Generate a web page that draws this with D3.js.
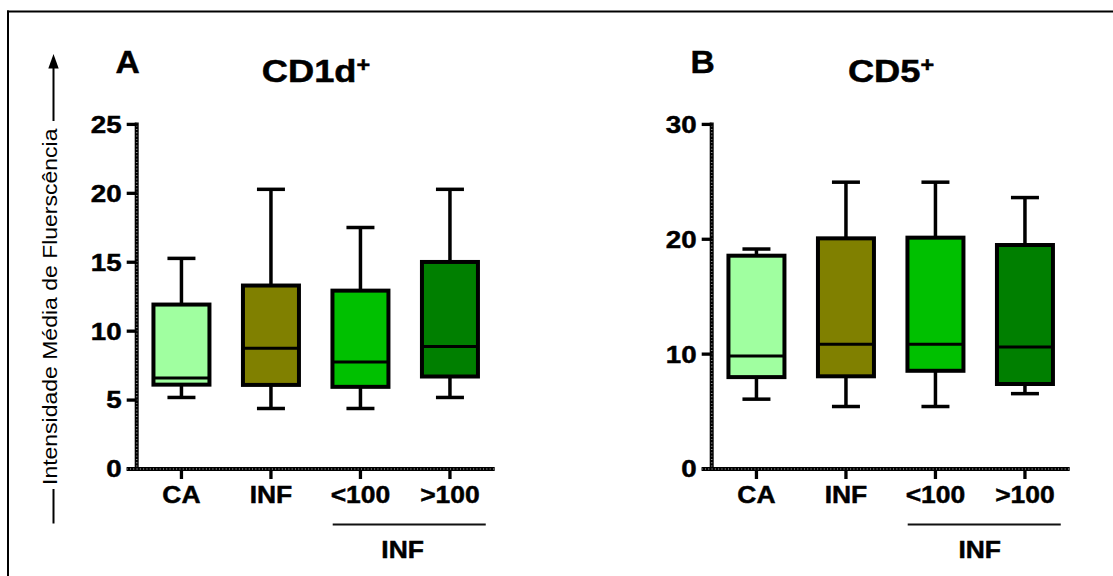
<!DOCTYPE html>
<html>
<head>
<meta charset="utf-8">
<script src="https://cdn.jsdelivr.net/npm/d3@7"></script>
<style>
  html, body { margin: 0; padding: 0; background: #fff; }
  svg { display: block; }
  text { font-family: "Liberation Sans", Arial, Helvetica, sans-serif; fill: #000; }
</style>
</head>
<body>
<svg id="chart" width="1113" height="576"></svg>
<script>
// ---- data ----
const categories = ["CA", "INF", "<100", ">100"];
const groupColors = ["#a0ffa0", "#808000", "#00c000", "#007f00"];

// Panel A: CD1d+
const cd1dMin    = [5.19, 4.39, 4.39, 5.19];
const cd1dQ1     = [6.12, 6.10, 5.96, 6.71];
const cd1dMedian = [6.60, 8.76, 7.77, 8.89];
const cd1dQ3     = [11.93, 13.31, 12.94, 15.02];
const cd1dMax    = [15.28, 20.29, 17.52, 20.29];
const cd1dTicks  = [0, 5, 10, 15, 20, 25];

// Panel B: CD5+
const cd5Min    = [6.08, 5.44, 5.44, 6.56];
const cd5Q1     = [8.00, 8.07, 8.55, 7.40];
const cd5Median = [9.83, 10.85, 10.85, 10.63];
const cd5Q3     = [18.57, 20.08, 20.14, 19.50];
const cd5Max    = [19.15, 24.97, 24.97, 23.63];
const cd5Ticks  = [0, 10, 20, 30];

const yLabel = "Intensidade Média de Fluerscência";
const groupLabel = "INF";
const groupedCats = ["<100", ">100"];

// ---- drawing ----
const svg = d3.select("#chart");
svg.append("rect").attr("width", 1113).attr("height", 576).attr("fill", "#fff");

// frame (top and left)
svg.append("line").attr("x1", 7).attr("x2", 1113).attr("y1", 11.5).attr("y2", 11.5)
  .attr("stroke", "#000").attr("stroke-width", 2);
svg.append("line").attr("x1", 8).attr("x2", 8).attr("y1", 10.5).attr("y2", 576)
  .attr("stroke", "#000").attr("stroke-width", 2);

function txt(g, x, y, s, size, weight, anchor, sx) {
  return g.append("text")
    .attr("transform", `translate(${x},${y}) scale(${sx},1)`)
    .attr("text-anchor", anchor)
    .style("font-size", size + "px")
    .style("font-weight", weight)
    .attr("stroke", "#000").attr("stroke-width", weight === "bold" ? 0.45 : 0)
    .text(s);
}

// textured axis line (black with fine grey hatch, like the reference)
function axisLine(g, x1, y1, x2, y2, w) {
  g.append("line").attr("x1", x1).attr("x2", x2).attr("y1", y1).attr("y2", y2)
    .attr("stroke", "#000").attr("stroke-width", w);
  g.append("line").attr("x1", x1).attr("x2", x2).attr("y1", y1).attr("y2", y2)
    .attr("stroke", "#8a8a8a").attr("stroke-width", Math.max(1, w - 2.5))
    .attr("stroke-dasharray", "0.9,2.4");
}

// Y label with arrow
const yl = svg.append("g");
yl.append("text")
  .attr("transform", "translate(56.5,485) rotate(-90) scale(1,0.85)")
  .attr("text-anchor", "start")
  .style("font-size", "23px")
  .text(yLabel);
yl.append("line").attr("x1", 53.5).attr("x2", 53.5).attr("y1", 121).attr("y2", 64)
  .attr("stroke", "#000").attr("stroke-width", 2);
yl.append("path").attr("d", "M53.5,54 L48.3,68.5 L58.7,68.5 Z").attr("fill", "#000");
yl.append("line").attr("x1", 53.5).attr("x2", 53.5).attr("y1", 489).attr("y2", 523.5)
  .attr("stroke", "#000").attr("stroke-width", 2);

function panel(opts) {
  const g = svg.append("g");
  const x0 = opts.x0, x1 = opts.x0 + 358;
  const yTop = 124.4, yBot = 469;
  const y = d3.scaleLinear().domain([0, opts.yMax]).range([yBot, yTop]);
  const x = d3.scaleBand().domain(categories).range([x0, x1]);
  const cx = c => x(c) + x.bandwidth() / 2;
  const boxW = 56, capW = 28;

  // panel letter and title
  txt(g, opts.letterX, 72.5, opts.letter, 32, "bold", "middle", 1.05);
  const t = g.append("text")
    .attr("transform", `translate(${opts.titleX},81.5) scale(1.17,1)`)
    .attr("text-anchor", "middle")
    .attr("stroke", "#000").attr("stroke-width", 0.5)
    .style("font-size", "31px").style("font-weight", "bold");
  t.append("tspan").text(opts.title);
  t.append("tspan").attr("dy", -10).style("font-size", "20px").text("+");

  // y axis
  axisLine(g, x0, yTop - 2, x0, yBot + 2, 4);
  opts.ticks.forEach(v => {
    g.append("line").attr("x1", x0 - 10).attr("x2", x0).attr("y1", y(v)).attr("y2", y(v))
      .attr("stroke", "#000").attr("stroke-width", 3.3);
    txt(g, x0 - 15, y(v) + 8.4, String(v), 23.5, "bold", "end", 1.18);
  });
  // x axis
  axisLine(g, x0 - 10, yBot, x1, yBot, 4);
  categories.forEach(c => {
    g.append("line").attr("x1", cx(c)).attr("x2", cx(c)).attr("y1", yBot + 2).attr("y2", yBot + 10)
      .attr("stroke", "#000").attr("stroke-width", 3.3);
    txt(g, cx(c), 503.3, c, 23, "bold", "middle", 1.15);
  });

  // boxes
  categories.forEach((c, i) => {
    const m = cx(c);
    const wl = g.append("g").attr("stroke", "#000").attr("stroke-width", 3.5);
    wl.append("line").attr("x1", m).attr("x2", m).attr("y1", y(opts.max[i])).attr("y2", y(opts.q3[i]));
    wl.append("line").attr("x1", m).attr("x2", m).attr("y1", y(opts.q1[i])).attr("y2", y(opts.min[i]));
    wl.append("line").attr("x1", m - capW / 2).attr("x2", m + capW / 2).attr("y1", y(opts.max[i])).attr("y2", y(opts.max[i]));
    wl.append("line").attr("x1", m - capW / 2).attr("x2", m + capW / 2).attr("y1", y(opts.min[i])).attr("y2", y(opts.min[i]));
    g.append("rect").attr("x", m - boxW / 2).attr("width", boxW)
      .attr("y", y(opts.q3[i])).attr("height", y(opts.q1[i]) - y(opts.q3[i]))
      .attr("fill", groupColors[i]).attr("stroke", "#000").attr("stroke-width", 4);
    g.append("line").attr("x1", m - boxW / 2).attr("x2", m + boxW / 2)
      .attr("y1", y(opts.med[i])).attr("y2", y(opts.med[i]))
      .attr("stroke", "#000").attr("stroke-width", 3);
  });

  // group bracket
  const gx1 = x(groupedCats[0]) + x.bandwidth() * 0.19;
  const gx2 = x(groupedCats[1]) + x.bandwidth() * 0.9;
  g.append("line").attr("x1", gx1).attr("x2", gx2).attr("y1", 524.6).attr("y2", 524.6)
    .attr("stroke", "#111").attr("stroke-width", 2);
  txt(g, (cx(groupedCats[0]) + cx(groupedCats[1])) / 2 + opts.groupDx, 557.5, groupLabel, 23, "bold", "middle", 1.15);
}

panel({ x0: 136.7, yMax: 25, ticks: cd1dTicks, min: cd1dMin, q1: cd1dQ1, med: cd1dMedian, q3: cd1dQ3, max: cd1dMax,
        letter: "A", letterX: 127.7, title: "CD1d", titleX: 316, groupDx: -2.6 });
panel({ x0: 711.7, yMax: 30, ticks: cd5Ticks, min: cd5Min, q1: cd5Q1, med: cd5Median, q3: cd5Q3, max: cd5Max,
        letter: "B", letterX: 702.7, title: "CD5", titleX: 891, groupDx: -0.5 });
</script>
</body>
</html>
